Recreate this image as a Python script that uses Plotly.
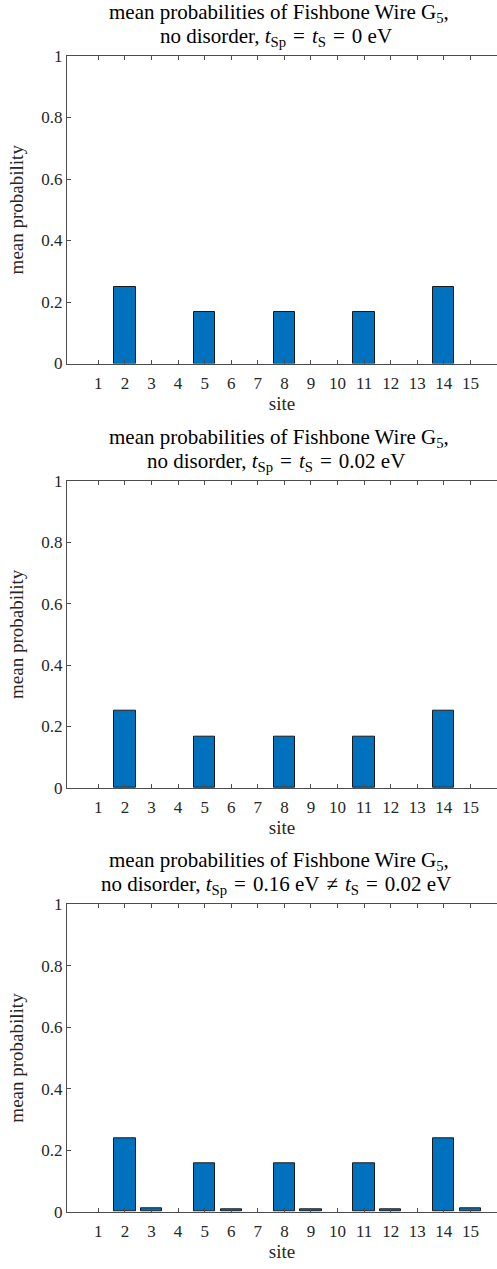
import plotly.graph_objects as go

sites = list(range(1, 16))
prob_a = [0, 0.25, 0, 0, 1/6, 0, 0, 1/6, 0, 0, 1/6, 0, 0, 0.25, 0]
prob_b = [0, 0.25, 0, 0, 1/6, 0, 0, 1/6, 0, 0, 1/6, 0, 0, 0.25, 0]
prob_c = [0, 0.239, 0.0098, 0, 0.159, 0.0066, 0, 0.159, 0.0066, 0, 0.159, 0.0066, 0, 0.239, 0.0098]
series = [prob_a, prob_b, prob_c]
S = "\u2004"
title_line1 = "mean probabilities of Fishbone Wire G<sub>5</sub>,"
title_line2 = [
    f"no disorder, <i>t</i><sub>Sp</sub>{S}={S}<i>t</i><sub>S</sub>{S}={S}0 eV",
    f"no disorder, <i>t</i><sub>Sp</sub>{S}={S}<i>t</i><sub>S</sub>{S}={S}0.02 eV",
    f"no disorder, <i>t</i><sub>Sp</sub>{S}={S}0.16 eV{S}≠{S}<i>t</i><sub>S</sub>{S}={S}0.02 eV",
]
y_ticks = [0, 0.2, 0.4, 0.6, 0.8, 1]
y_tick_text = ["0", "0.2", "0.4", "0.6", "0.8", "1"]

H = 1269
W = 497
panels = [(56, 363.5), (480.7, 788), (904.3, 1211.7)]
LEFT = 67
FONT = "Liberation Serif"
AX = "#4d4d4d"

fig = go.Figure()
for i, (vals, (top, bot)) in enumerate(zip(series, panels)):
    n = i + 1
    xa = "x" if n == 1 else f"x{n}"
    ya = "y" if n == 1 else f"y{n}"
    fig.add_trace(go.Bar(x=sites, y=vals, width=0.8, xaxis=xa, yaxis=ya,
                         marker=dict(color="#0072BD",
                                     line=dict(color="#1a1a1a", width=[1 if v > 0 else 0 for v in vals])),
                         showlegend=False))
    dom = [1 - bot / H, 1 - top / H]
    xkey = "xaxis" if n == 1 else f"xaxis{n}"
    ykey = "yaxis" if n == 1 else f"yaxis{n}"
    fig.layout[xkey] = dict(domain=[LEFT / W, 1], range=[-0.18, 16.0], anchor=ya, automargin=False,
                            tickmode="array", tickvals=sites, ticktext=[str(s) for s in sites],
                            ticks="inside", ticklen=4, tickcolor=AX, showline=True, linecolor=AX,
                            linewidth=1, mirror="ticks", showgrid=False, zeroline=False,
                            ticklabelstandoff=4,
                            tickfont=dict(family=FONT, size=17, color="#262626"),
                            title=dict(text="site", font=dict(family=FONT, size=19, color="#262626"), standoff=4))
    fig.layout[ykey] = dict(domain=dom, range=[0, 1], anchor=xa, automargin=False,
                            tickmode="array", tickvals=y_ticks, ticktext=y_tick_text,
                            ticks="inside", ticklen=4, tickcolor=AX, showline=True, linecolor=AX,
                            linewidth=1, mirror=False, showgrid=False, zeroline=False,
                            tickfont=dict(family=FONT, size=17, color="#262626"),
                            title=dict(text="mean probability", font=dict(family=FONT, size=19, color="#262626"), standoff=12))
    fig.add_annotation(text=title_line1, xref="paper", yref="paper", x=279 / W,
                       y=1 - (top - 43) / H, xanchor="center", yanchor="middle", showarrow=False,
                       font=dict(family=FONT, size=21, color="#000000"))
    fig.add_annotation(text=title_line2[i], xref="paper", yref="paper", x=276 / W,
                       y=1 - (top - 19) / H, xanchor="center", yanchor="middle", showarrow=False,
                       font=dict(family=FONT, size=21, color="#000000"))

fig.update_layout(width=W, height=H, margin=dict(l=0, r=0, t=0, b=0),
                  plot_bgcolor="white", paper_bgcolor="white", bargap=0)
fig.write_html("out.html", config={"displayModeBar": False},
               post_script="document.body.style.margin='0';")
